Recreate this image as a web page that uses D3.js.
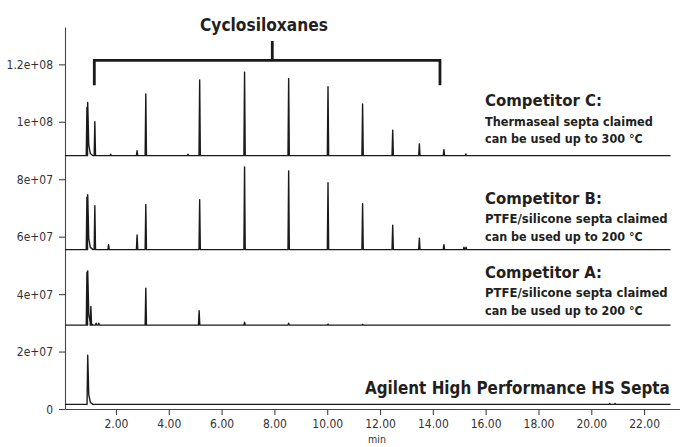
<!doctype html>
<html>
<head>
<meta charset="utf-8"/>
<title>Cyclosiloxanes - septa comparison</title>
<script src="https://d3js.org/d3.v7.min.js"></script>
<style>
body { margin: 0; background: #fff; }
svg { display: block; }
.lbl { font-family: "Liberation Sans Narrow", "DejaVu Sans", sans-serif; font-weight: bold; fill: #231f20; }
.tick text, .unit { font-family: "Liberation Sans Narrow", "DejaVu Sans", sans-serif; font-size: 12.5px; fill: #333; }
</style>
</head>
<body>
<script>
// tick values and labels
var xTicks = [2, 4, 6, 8, 10, 12, 14, 16, 18, 20, 22];
var xTickLabels = ["2.00", "4.00", "6.00", "8.00", "10.00", "12.00", "14.00", "16.00", "18.00", "20.00", "22.00"];
var yTicks = [0, 2e7, 4e7, 6e7, 8e7, 1e8, 1.2e8];
var yTickLabels = ["0", "2e+07", "4e+07", "6e+07", "8e+07", "1e+08", "1.2e+08"];

// each trace is drawn shifted up by its offset (counts)
var traceNames = ["Competitor C", "Competitor B", "Competitor A", "Agilent High Performance HS Septa"];
var traceOffsets = [8.82e7, 5.55e7, 2.92e7, 1.6e6];

// peaks: [retention time (min), height (counts), tailing]
var peaksC = [[0.90, 1.68e7], [0.93, 1.85e7, 1], [1.20, 1.18e7], [1.80, 5e5], [2.80, 1.7e6], [3.13, 2.15e7],
  [4.73, 5e5], [5.17, 2.64e7], [6.87, 2.91e7], [8.54, 2.69e7], [10.03, 2.40e7], [11.34, 1.80e7],
  [12.48, 8.9e6], [13.49, 4.1e6], [14.42, 2.1e6], [15.25, 6e5]];
var peaksB = [[0.90, 1.82e7], [0.93, 1.91e7, 1], [1.20, 1.53e7], [1.72, 1.7e6], [2.80, 5.1e6], [3.13, 1.57e7],
  [5.17, 1.74e7], [6.87, 2.88e7], [8.54, 2.74e7], [10.03, 2.33e7], [11.34, 1.60e7], [12.48, 8.5e6],
  [13.49, 4.0e6], [14.42, 1.7e6], [15.18, 8e5], [15.26, 8e5]];
var peaksA = [[0.90, 1.84e7], [0.93, 1.89e7, 1], [1.05, 6.5e6], [1.25, 7e5], [1.35, 7e5], [3.13, 1.29e7],
  [5.15, 5.0e6], [6.87, 1.0e6], [8.54, 7e5], [10.03, 3.5e5], [11.34, 2e5]];
var peaksAg = [[0.93, 1.71e7, 1], [20.7, 3.5e5], [20.9, 3e5]];
var tracePeaks = [peaksC, peaksB, peaksA, peaksAg];

var runStart = 0.07, runEnd = 23.0;

var svg = d3.select("body").append("svg")
  .attr("width", 680)
  .attr("height", 447);

var x = d3.scaleLinear().domain([0.07, 23.36]).range([65, 680]);
var y = d3.scaleLinear().domain([0, 1.33e8]).range([409, 27]);

// axes
var xAxis = d3.axisBottom(x).tickValues(xTicks).tickSize(6).tickSizeOuter(0)
  .tickFormat(function(d, i) { return xTickLabels[i]; });
var yAxis = d3.axisLeft(y).tickValues(yTicks).tickSize(6).tickSizeOuter(0)
  .tickFormat(function(d, i) { return yTickLabels[i]; });

var gx = svg.append("g").attr("transform", "translate(0,409)").call(xAxis);
gx.selectAll("text").attr("dy", null).attr("y", 19);
var gy = svg.append("g").attr("transform", "translate(65,0)").call(yAxis);
gy.selectAll("text").attr("x", -12);
svg.selectAll(".domain, .tick line").attr("stroke", "#444").attr("stroke-width", 1.1);
gx.attr("font-family", null).attr("font-size", null);
gy.attr("font-family", null).attr("font-size", null);

// narrow the tick labels, the original uses a condensed face
svg.selectAll(".tick text").each(function() {
  var len = this.getComputedTextLength();
  d3.select(this).attr("textLength", len * 0.86).attr("lengthAdjust", "spacingAndGlyphs");
});

svg.append("text").attr("class", "unit")
  .attr("x", 377).attr("y", 443).attr("text-anchor", "middle")
  .style("font-size", "11px")
  .attr("textLength", 18).attr("lengthAdjust", "spacingAndGlyphs")
  .text("min");

// traces
function tracePoints(peaks) {
  var pts = [[runStart, 0]];
  peaks.forEach(function(p) {
    var t = p[0], h = p[1];
    pts.push([t - 0.025, 0], [t, h]);
    if (p[2]) {
      pts.push([t + 0.04, h * 0.2], [t + 0.1, h * 0.04], [t + 0.2, 0]);
    } else {
      pts.push([t + 0.025, 0]);
    }
  });
  pts.push([runEnd, 0]);
  return pts;
}

traceNames.forEach(function(name, i) {
  var off = traceOffsets[i];
  var line = d3.line()
    .x(function(d) { return x(d[0]); })
    .y(function(d) { return y(d[1] + off); });
  svg.append("path")
    .datum(tracePoints(tracePeaks[i]))
    .attr("d", line)
    .attr("fill", "none")
    .attr("stroke", "#1a1a1a")
    .attr("stroke-width", 1.4)
    .attr("stroke-linejoin", "round");
});

// cyclosiloxanes bracket
var brLeft = 1.18, brRight = 14.27, brMid = 7.92;
var brTop = 1.214e8, brFoot = 1.127e8, brStem = 1.281e8;
svg.append("path")
  .attr("d", "M" + x(brLeft) + "," + y(brFoot) + "V" + y(brTop) + "H" + x(brRight) + "V" + y(brFoot)
    + "M" + x(brMid) + "," + y(brTop) + "V" + y(brStem))
  .attr("fill", "none").attr("stroke", "#1a1a1a").attr("stroke-width", 2.8);

// labels: [text, x, baseline, size, width]
var labels = [
  ["Cyclosiloxanes", 200, 31, 18, 128],
  ["Competitor C:", 485, 106, 16.5, 117],
  ["Thermaseal septa claimed", 485, 126, 12.5, 168],
  ["can be used up to 300 °C", 485, 143, 12.5, 158],
  ["Competitor B:", 485, 203.5, 16.5, 117],
  ["PTFE/silicone septa claimed", 485, 222.5, 12.5, 183],
  ["can be used up to 200 °C", 485, 240.5, 12.5, 158],
  ["Competitor A:", 485, 278.3, 16.5, 117],
  ["PTFE/silicone septa claimed", 485, 296.5, 12.5, 183],
  ["can be used up to 200 °C", 485, 314.5, 12.5, 158],
  ["Agilent High Performance HS Septa", 365, 394, 18, 305]
];
// squeeze each label horizontally to the width it has in the original
svg.selectAll("text.lbl")
  .data(labels)
  .enter().append("text")
  .attr("class", "lbl")
  .style("font-size", function(d) { return d[3] + "px"; })
  .text(function(d) { return d[0]; })
  .each(function(d) {
    var sx = d[4] / this.getComputedTextLength();
    d3.select(this).attr("transform", "translate(" + d[1] + "," + d[2] + ") scale(" + sx + ",1)");
  });
</script>
</body>
</html>
